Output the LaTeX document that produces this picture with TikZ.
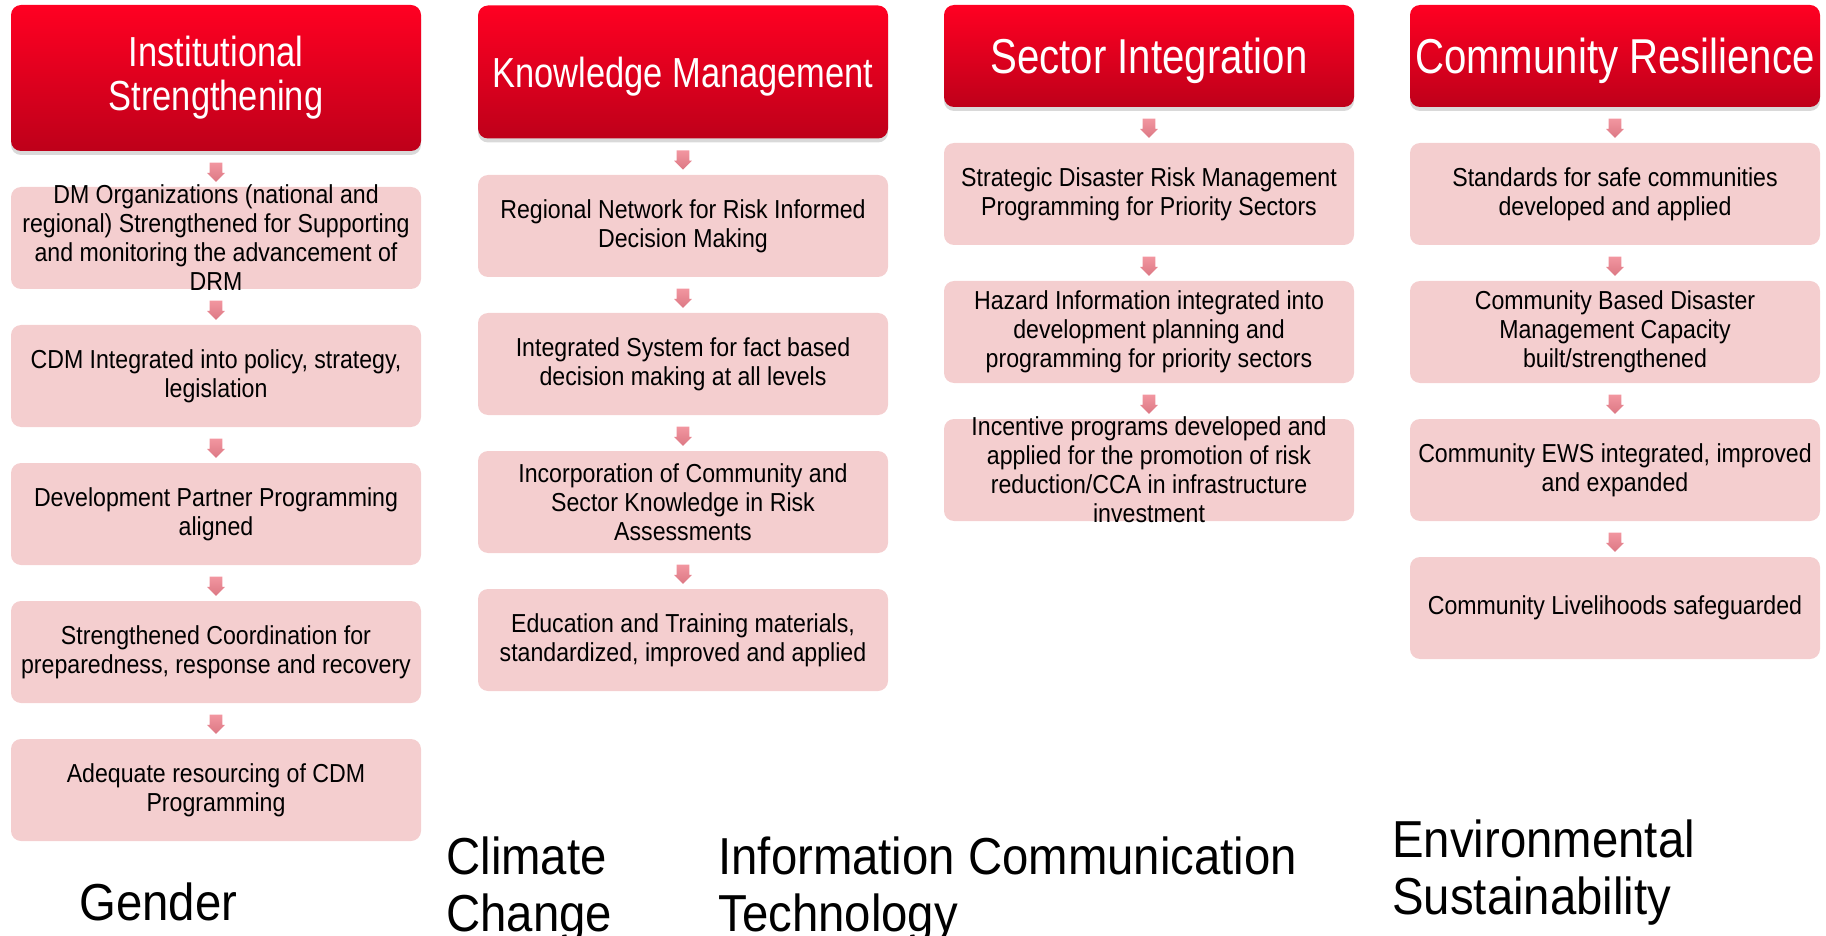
\documentclass[tikz,border=0pt]{standalone}
\usepackage{fontspec}
\setmainfont{Liberation Sans}
\newfontfamily\headfont[FakeStretch=0.82]{Liberation Sans}
\newfontfamily\itemfont[FakeStretch=0.89]{Liberation Sans}
\newfontfamily\footfont[FakeStretch=0.91]{Liberation Sans}
\usetikzlibrary{shapes.arrows,shadows}

\definecolor{headtop}{RGB}{255,0,34}
\definecolor{headbot}{RGB}{190,0,26}
\definecolor{itemfill}{RGB}{244,206,207}
\definecolor{arrowtop}{RGB}{242,150,160}
\definecolor{arrowbot}{RGB}{220,120,132}

%% fixed size text block of a pink box
\newcommand\itemtext[1]{\parbox[c][51pt][c]{205pt}{\centering\itemfont\fontsize{13}{14.5}\selectfont #1}}

\begin{document}
\begin{tikzpicture}[x=0.5pt,y=-0.5pt,
    head/.style={rounded corners=5pt, top color=headtop, bottom color=headbot,
        minimum width=205pt, text=white, align=center, inner sep=0pt,
        drop shadow={shadow xshift=0pt, shadow yshift=-2pt, opacity=0.3}},
    item/.style={fill=itemfill, rounded corners=5pt, inner sep=0pt},
    darr/.style={single arrow, top color=arrowtop, bottom color=arrowbot, inner sep=3pt,
        single arrow head extend=1.25pt, minimum height=8.5pt, shape border rotate=270},
    foot/.style={font=\footfont\fontsize{26}{28.5}\selectfont, align=left,
        anchor=base west, inner sep=0pt}]

    \useasboundingbox (0,0) rectangle (1826,936);

        %%col1
        \node[head, minimum height=73pt, font=\headfont\fontsize{21}{22}\selectfont]
            (h1) at (216,78) {Institutional\\Strengthening};
        \node[item] (a1) at (216,238) {\itemtext{DM Organizations (national and\\regional) Strengthened for Supporting\\and monitoring the advancement of\\DRM}};
        \node[item] (a2) at (216,376) {\itemtext{CDM Integrated into policy, strategy,\\legislation}};
        \node[item] (a3) at (216,514) {\itemtext{Development Partner Programming\\aligned}};
        \node[item] (a4) at (216,652) {\itemtext{Strengthened Coordination for\\preparedness, response and recovery}};
        \node[item] (a5) at (216,790) {\itemtext{Adequate resourcing of CDM\\Programming}};
            \path (h1.south) -- (a1.north) node[midway,darr]{};
            \path (a1.south) -- (a2.north) node[midway,darr]{};
            \path (a2.south) -- (a3.north) node[midway,darr]{};
            \path (a3.south) -- (a4.north) node[midway,darr]{};
            \path (a4.south) -- (a5.north) node[midway,darr]{};

        %%col2
        \node[head, minimum height=66.5pt, text depth=0pt, font=\headfont\fontsize{21}{22}\selectfont]
            (h2) at (683,72) {Knowledge Management};
        \node[item] (k1) at (683,226) {\itemtext{Regional Network for Risk Informed\\Decision Making}};
        \node[item] (k2) at (683,364) {\itemtext{Integrated System for fact based\\decision making at all levels}};
        \node[item] (k3) at (683,502) {\itemtext{Incorporation of Community and\\Sector Knowledge in Risk\\Assessments}};
        \node[item] (k4) at (683,640) {\itemtext{Education and Training materials,\\standardized, improved and applied}};
            \path (h2.south) -- (k1.north) node[midway,darr]{};
            \path (k1.south) -- (k2.north) node[midway,darr]{};
            \path (k2.south) -- (k3.north) node[midway,darr]{};
            \path (k3.south) -- (k4.north) node[midway,darr]{};

        %%col3
        \node[head, minimum height=51pt, text depth=0pt, font=\headfont\fontsize{24.5}{26}\selectfont]
            (h3) at (1149,56) {Sector Integration};
        \node[item] (s1) at (1149,194) {\itemtext{Strategic Disaster Risk Management\\Programming for Priority Sectors}};
        \node[item] (s2) at (1149,332) {\itemtext{Hazard Information integrated into\\development planning and\\programming for priority sectors}};
        \node[item] (s3) at (1149,470) {\itemtext{Incentive programs developed and\\applied for the promotion of risk\\reduction/CCA in infrastructure\\investment}};
            \path (h3.south) -- (s1.north) node[midway,darr]{};
            \path (s1.south) -- (s2.north) node[midway,darr]{};
            \path (s2.south) -- (s3.north) node[midway,darr]{};

        %%col4
        \node[head, minimum height=51pt, text depth=0pt, font=\headfont\fontsize{24.5}{26}\selectfont]
            (h4) at (1615,56) {Community Resilience};
        \node[item] (c1) at (1615,194) {\itemtext{Standards for safe communities\\developed and applied}};
        \node[item] (c2) at (1615,332) {\itemtext{Community Based Disaster\\Management Capacity\\built/strengthened}};
        \node[item] (c3) at (1615,470) {\itemtext{Community EWS integrated, improved\\and expanded}};
        \node[item] (c4) at (1615,608) {\itemtext{Community Livelihoods safeguarded}};
            \path (h4.south) -- (c1.north) node[midway,darr]{};
            \path (c1.south) -- (c2.north) node[midway,darr]{};
            \path (c2.south) -- (c3.north) node[midway,darr]{};
            \path (c3.south) -- (c4.north) node[midway,darr]{};

        %%cross cutting (base = last line)
        \node[foot] (gender) at (79,920) {Gender};
        \node[foot] (climate) at (446,931) {Climate\\Change};
        \node[foot] (ict) at (718,931) {Information Communication\\Technology};
        \node[foot] (env) at (1392,914) {Environmental\\Sustainability};
\end{tikzpicture}
\end{document}
